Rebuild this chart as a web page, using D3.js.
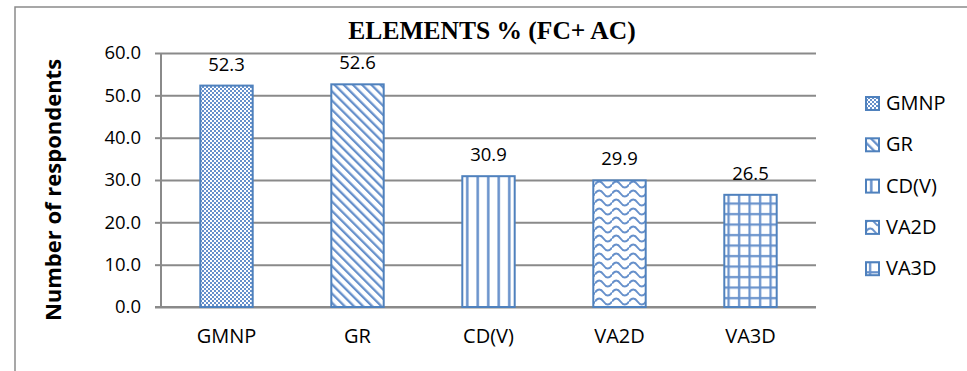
<!DOCTYPE html>
<html>
  <head>
    <meta charset="utf-8" />
    <title>Elements % (FC+ AC)</title>
    <script src="https://d3js.org/d3.v7.min.js"></script>
    <style>
      body { margin: 0; background: #fff; }
    </style>
  </head>
  <body>
    <svg id="chart" width="967" height="371"></svg>
    <script>
      // valores
      const categories = ["GMNP", "GR", "CD(V)", "VA2D", "VA3D"];
      const values = [52.3, 52.6, 30.9, 29.9, 26.5];
      const yTicks = [0, 10, 20, 30, 40, 50, 60];
      const patternIds = ["p-dots", "p-diag", "p-vert", "p-wave", "p-grid"];

      const width = 967;
      const height = 371;
      const margin = { top: 53, right: 151, bottom: 64, left: 161 };
      const blue = "#4f81bd";
      const hatch = "#6690cb";
      const grey = "#8a8a8a";
      const font = "'Open Sans', sans-serif";
      const svg = d3.select("#chart");

      // Escalas
      const xScale = d3
        .scaleBand()
        .domain(categories)
        .range([margin.left, width - margin.right])
        .paddingInner(0.6)
        .paddingOuter(0.3);
      const yScale = d3
        .scaleLinear()
        .domain([0, 60])
        .range([height - margin.bottom, margin.top]);

      // Patrones de relleno
      const defs = svg.append("defs");
      const pattern = (id, w, h) =>
        defs.append("pattern").attr("id", id)
          .attr("patternUnits", "userSpaceOnUse").attr("width", w).attr("height", h);

      const dots = pattern("p-dots", 4, 4);
      dots.append("rect").attr("width", 4).attr("height", 4).attr("fill", "#fff");
      dots.append("rect").attr("width", 2).attr("height", 2).attr("fill", hatch);
      dots.append("rect").attr("x", 2).attr("y", 2).attr("width", 2).attr("height", 2).attr("fill", hatch);

      const diag = pattern("p-diag", 6.5, 6.5).attr("patternTransform", "rotate(-45)");
      diag.append("rect").attr("width", 6.5).attr("height", 6.5).attr("fill", "#fff");
      diag.append("rect").attr("width", 2.3).attr("height", 6.5).attr("fill", hatch);

      const vert = pattern("p-vert", 10.5, 10);
      vert.append("rect").attr("width", 10.5).attr("height", 10).attr("fill", "#fff");
      vert.append("rect").attr("x", 4).attr("width", 2.5).attr("height", 10).attr("fill", hatch);

      const wave = pattern("p-wave", 17, 9);
      wave.append("rect").attr("width", 17).attr("height", 9).attr("fill", "#fff");
      wave.append("path")
        .attr("d", "M0,4.5 C2.8,0.5 5.7,0.5 8.5,4.5 S14.2,8.5 17,4.5")
        .attr("fill", "none").attr("stroke", hatch).attr("stroke-width", 2);

      const grid = pattern("p-grid", 10.5, 10.5);
      grid.append("rect").attr("width", 10.5).attr("height", 10.5).attr("fill", "#fff");
      grid.append("rect").attr("x", 3).attr("width", 2.2).attr("height", 10.5).attr("fill", hatch);
      grid.append("rect").attr("y", 3).attr("width", 10.5).attr("height", 2.2).attr("fill", hatch);

      // Borde exterior (cortado por la derecha y abajo)
      svg.append("rect")
        .attr("x", 15).attr("y", 7)
        .attr("width", 1000).attr("height", 400)
        .attr("fill", "none").attr("stroke", grey).attr("stroke-width", 1.5);

      // Líneas de cuadrícula
      svg.append("g")
        .attr("transform", `translate(${margin.left},0)`)
        .call(d3.axisLeft(yScale).tickValues(yTicks)
          .tickSize(-(width - margin.right - margin.left)).tickFormat(""))
        .call((g) => g.select(".domain").remove())
        .call((g) => g.selectAll("line").attr("stroke", grey).attr("stroke-width", 2));

      // Eje y
      const yAxis = svg.append("g")
        .attr("transform", `translate(${margin.left},0)`)
        .call(d3.axisLeft(yScale).tickValues(yTicks).tickSize(6).tickPadding(14)
          .tickFormat(d3.format(".1f")));
      yAxis.select(".domain").attr("stroke", grey).attr("stroke-width", 2)
        .attr("d", `M0,${yScale(0)}V${yScale(60)}`);
      yAxis.selectAll("line").attr("stroke", grey).attr("stroke-width", 2);
      yAxis.selectAll("text")
        .attr("font-family", font)
        .attr("font-size", "18.5px").attr("fill", "#000");

      // Eje x
      const xAxis = svg.append("g")
        .attr("transform", `translate(0,${yScale(0)})`)
        .call(d3.axisBottom(xScale).tickSize(0).tickPadding(22));
      xAxis.select(".domain").attr("stroke", grey).attr("stroke-width", 2)
        .attr("d", `M${margin.left - 6},0H${width - margin.right}`);
      xAxis.selectAll("text")
        .attr("font-family", font)
        .attr("font-size", "20px").attr("fill", "#000");

      // Barras
      svg.append("g")
        .selectAll("rect")
        .data(categories)
        .join("rect")
        .attr("x", (d) => xScale(d))
        .attr("y", (d, i) => yScale(values[i]))
        .attr("width", xScale.bandwidth())
        .attr("height", (d, i) => yScale(0) - yScale(values[i]))
        .attr("fill", (d, i) => `url(#${patternIds[i]})`)
        .attr("stroke", blue)
        .attr("stroke-width", 2);

      // Etiquetas de datos
      svg.append("g")
        .selectAll("text")
        .data(categories)
        .join("text")
        .attr("x", (d) => xScale(d) + xScale.bandwidth() / 2)
        .attr("y", (d, i) => yScale(values[i]) - 15)
        .attr("text-anchor", "middle")
        .attr("font-family", font)
        .attr("font-size", "18.5px")
        .text((d, i) => values[i].toFixed(1));

      // Título
      svg.append("text")
        .attr("x", 492).attr("y", 39)
        .attr("text-anchor", "middle")
        .attr("font-family", "'Liberation Serif', serif")
        .attr("font-weight", "bold")
        .attr("font-size", "25.5px")
        .text("ELEMENTS % (FC+ AC)");

      // Etiqueta del eje y
      svg.append("text")
        .attr("transform", `translate(61,${(yScale(0) + yScale(60)) / 2 + 10}) rotate(-90)`)
        .attr("text-anchor", "middle")
        .attr("font-family", font)
        .attr("font-weight", "bold")
        .attr("font-size", "22px")
        .text("Number of respondents");

      // Leyenda
      const legend = svg.append("g")
        .selectAll("g")
        .data(categories)
        .join("g")
        .attr("transform", (d, i) => `translate(866,${103 + i * 41.3})`);
      legend.append("rect")
        .attr("x", 0).attr("y", -6)
        .attr("width", 13).attr("height", 13)
        .attr("fill", (d, i) => `url(#${patternIds[i]})`)
        .attr("stroke", blue).attr("stroke-width", 2);
      legend.append("text")
        .attr("x", 20).attr("y", 0)
        .attr("dy", "0.35em")
        .attr("font-family", font)
        .attr("font-size", "20px")
        .text((d) => d);
    </script>
  </body>
</html>
